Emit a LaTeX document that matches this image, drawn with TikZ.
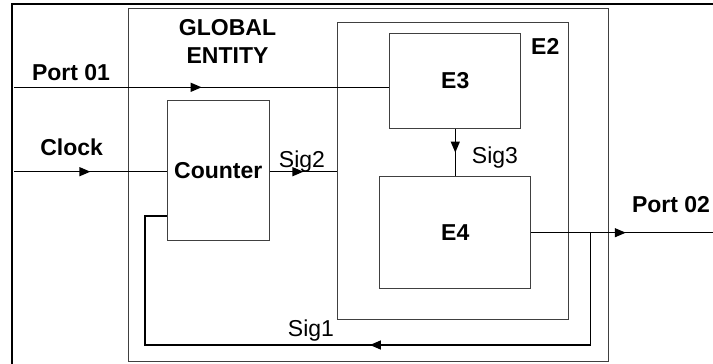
\documentclass[tikz,border=0pt]{standalone}
\usepackage{fontspec}
\setmainfont{Liberation Sans}
\usetikzlibrary{positioning,arrows.meta,decorations.markings}

\begin{document}
\begin{tikzpicture}[
            x=1pt, y=-1pt,
            every node/.style={font=\fontsize{23}{28}\selectfont},
            block/.style={draw=black!75, line width=1pt, inner sep=0pt},
            title/.style={font=\fontsize{23}{28}\selectfont\bfseries},
            lbl/.style={anchor=base},
            wire/.style={line width=1.3pt},
            arrowat/.style={postaction={decorate},
                decoration={markings, mark=at position #1 with {\arrow{Triangle[length=11pt,width=9pt]}}}}
        ]
            \useasboundingbox (0,0) rectangle (713,364);

            % Outer frame
            \draw[line width=2.5pt] (12,364) -- (12,4) -- (713,4);

            % Blocks
            \node[block, minimum width=480, minimum height=353] (global) at (368,185) {};
            \node[block, minimum width=231, minimum height=297] (e2) at (453,171.3) {};
            \node[block, title, minimum width=131, minimum height=95] (e3) at (455.3,80.8) {E3};
            \node[block, title, minimum width=151, minimum height=112] (e4) at (455.3,232.8) {E4};
            \node[block, title, minimum width=102, minimum height=140] (counter) at (218.3,170.8) {Counter};

            % Free ends
            \coordinate (p1in) at (14,87.3);
            \coordinate (clkin) at (14,171.7);
            \coordinate (p2out) at (713,232.7);
            \coordinate (tap) at (590.7,232.7);
            \coordinate (fb) at (145,216);

            % Labels
            \node[title, align=center] (gtitle) at (227.5,41) {GLOBAL\\ENTITY};
            \node[title, lbl] (e2lbl) at (545.3,54.3) {E2};
            \node[title, lbl] (p1lbl) at (71,80) {Port 01};
            \node[title, lbl] (clklbl) at (71.7,155) {Clock};
            \node[title, lbl] (p2lbl) at (671,212.3) {Port 02};
            \node[lbl] (sig2) at (302,167) {Sig2};
            \node[lbl] (sig3) at (495,163.3) {Sig3};
            \node[lbl] (sig1) at (311,336.7) {Sig1};

            % Edges
            \draw[wire, arrowat=0.5] (p1in) -- (p1in -| e3.west);
            \draw[wire, arrowat=0.5] (clkin) -- (clkin -| counter.west);
            \draw[wire, arrowat=0.5] (clkin -| counter.east) -- (clkin -| e2.west);
            \draw[wire, arrowat=0.5] (e3.south) -- (e4.north);
            \draw[wire, arrowat=0.52] (e4.east |- p2out) -- (p2out);
            \draw[wire, arrowat=0.47] (tap) -- ++(0,112.3) -| (fb) -- (fb -| counter.west);
        \end{tikzpicture}
\end{document}
